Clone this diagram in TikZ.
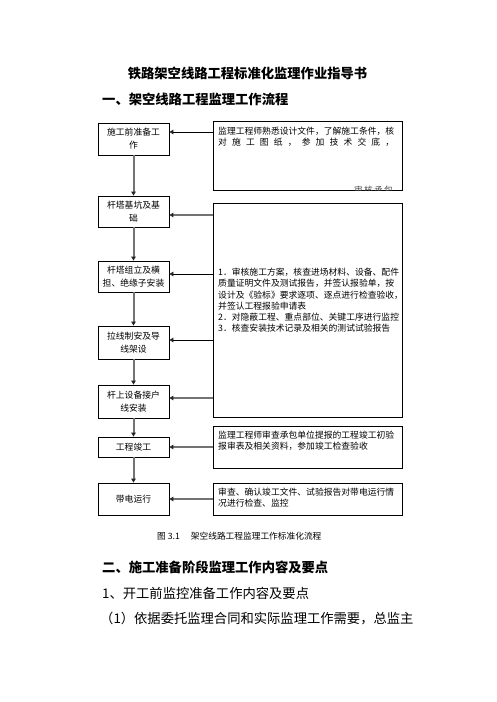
\documentclass[tikz,border=0pt]{standalone}
\usepackage{fontspec}
\setmainfont{Noto Sans CJK SC}
\usetikzlibrary{arrows.meta}
\begin{document}
\begin{tikzpicture}[x=1pt,y=-1pt,
  lbox/.style={draw,line width=0.8pt,minimum width=71pt,align=center,inner sep=0pt,font=\fontsize{8.8}{13}\selectfont},
  rbox/.style={draw,line width=0.8pt,minimum width=189pt,inner sep=0pt},
  txt/.style={anchor=north west,inner sep=0pt,align=left,font=\fontsize{8.8}{11.2}\selectfont},
  tip/.style={-{Triangle[length=4pt,width=4.5pt,color=black!85]}},
  garr/.style={tip,draw=black!55,line width=2pt},
  barr/.style={tip,draw=black,line width=0.8pt},
  head/.style={anchor=west,inner sep=0pt,font=\fontsize{13.3}{16}\selectfont\bfseries},
  body/.style={anchor=west,inner sep=0pt,font=\fontsize{13.3}{16}\selectfont},
]
\useasboundingbox (0,0) rectangle (496,702);
\fill[white] (0,0) rectangle (496,702);

% titles
\node[inner sep=0pt,font=\fontsize{13.3}{16}\selectfont\bfseries] (title) at (247.5,73) {铁路架空线路工程标准化监理作业指导书};
\node[head] (h1) at (102,99) {一、架空线路工程监理工作流程};

% left boxes
\node[lbox,minimum height=32pt] (l1) at (133.5,139) {施工前准备工\\作};
\node[lbox,minimum height=31pt] (l2) at (133.5,211.5) {杆塔基坑及基\\础};
\node[lbox,minimum height=31pt] (l3) at (133.5,276.5) {杆塔组立及横\\担、绝缘子安装};
\node[lbox,minimum height=33pt] (l4) at (133.5,342.5) {拉线制安及导\\线架设};
\node[lbox,minimum height=33pt] (l5) at (133.5,401.5) {杆上设备接户\\线安装};
\node[lbox,minimum height=20pt] (l6) at (133.5,447) {工程竣工};
\node[lbox,minimum height=32pt] (l7) at (133.5,499) {带电运行};

% right boxes
\node[rbox,minimum height=69pt] (r1) at (307.5,155.5) {};
\node[rbox,minimum height=214pt] (r2) at (307.5,310) {};
\node[rbox,minimum height=42pt] (r3) at (307.5,447) {};
\node[rbox,minimum height=32pt] (r4) at (307.5,499) {};

% right box texts
\node[txt] (t1) at (218,127) {监理工程师熟悉设计文件，了解施工条件，核\\
\hbox to 176pt{对\hfill 施\hfill 工\hfill 图\hfill 纸\hfill ，\hfill 参\hfill 加\hfill 技\hfill 术\hfill 交\hfill 底\hfill ，}};
\begin{scope}
\clip (r1.north west) rectangle (r1.south east);
\node[inner sep=0pt,text=black!70,font=\fontsize{8.8}{11.2}\selectfont] (t1c) at (373.5,190) {\hbox to 39pt{审\hfill 核\hfill 承\hfill 包}};
\end{scope}
\node[txt] (t2) at (218,268) {1．审核施工方案，核查进场材料、设备、配件\\
质量证明文件及测试报告，并签认报验单，按\\
设计及《验标》要求逐项、逐点进行检查验收，\\
并签认工程报验申请表\\
2．对隐蔽工程、重点部位、关键工序进行监控\\
3．核查安装技术记录及相关的测试试验报告};
\node[txt] (t3) at (218,431) {监理工程师审查承包单位提报的工程竣工初验\\报审表及相关资料，参加竣工检查验收};
\node[txt] (t4) at (218,488) {审查、确认竣工文件、试验报告对带电运行情\\况进行检查、监控};

% horizontal arrows
\coordinate (a1) at (0,132);
\coordinate (a2) at (0,215);
\coordinate (a3) at (0,274);
\coordinate (a4) at (0,340);
\coordinate (a5) at (0,398);
\coordinate (a6) at (0,447);
\coordinate (a7) at (0,499);
\draw[barr] (r1.west |- a1) -- (l1.east |- a1);
\draw[garr] (r2.west |- a2) -- (l2.east |- a2);
\draw[barr] (r2.west |- a3) -- (l3.east |- a3);
\draw[barr] (r2.west |- a4) -- (l4.east |- a4);
\draw[garr] (r2.west |- a5) -- (l5.east |- a5);
\draw[garr] (r3.west |- a6) -- (l6.east |- a6);
\draw[garr] (r4.west |- a7) -- (l7.east |- a7);

% vertical arrows
\draw[garr] (l1.south) -- (l2.north);
\draw[garr] (l2.south) -- (l3.north);
\draw[garr] (l3.south) -- (l4.north);
\draw[garr] (l4.south) -- (l5.north);
\draw[garr] (l5.south) -- (l6.north);
\draw[garr] (l6.south) -- (l7.north);

% caption
\node[anchor=west,inner sep=0pt,font=\fontsize{8.7}{10}\selectfont] (cap) at (157,536) {图 3.1\hspace{11pt}架空线路工程监理工作标准化流程};

% following text
\node[head] (h2) at (102,567) {二、施工准备阶段监理工作内容及要点};
\node[body] (p1) at (102,593) {1、开工前监控准备工作内容及要点};
\node[body] (p2) at (100,619) {（1）依据委托监理合同和实际监理工作需要，总监主};
\end{tikzpicture}
\end{document}
